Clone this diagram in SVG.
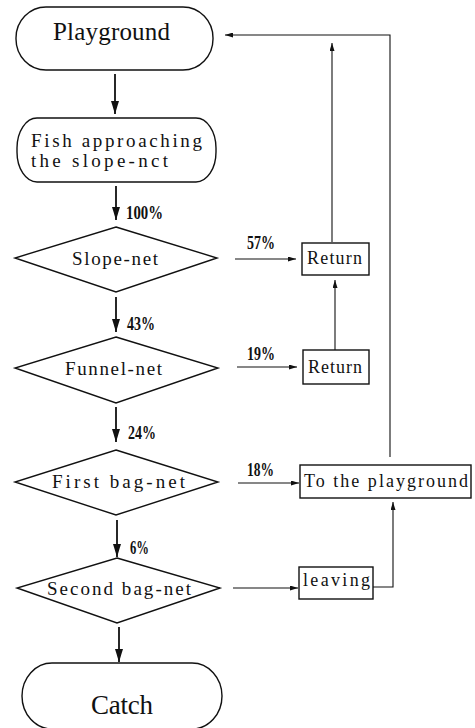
<svg xmlns="http://www.w3.org/2000/svg" width="475" height="728" viewBox="0 0 475 728">
<defs>
<style>
.shape{fill:#fff;stroke:#111;stroke-width:1.4}
.conn{fill:none;stroke:#111;stroke-width:1.1}
.main{fill:none;stroke:#111;stroke-width:1.8}
text{font-family:"Liberation Serif","Times New Roman",serif;fill:#111}
.lbl{font-size:19px}
.box{font-size:18px}
.pct{font-size:18px;font-weight:bold}
</style>
<marker id="big" viewBox="0 0 13 8" refX="13" refY="4" markerWidth="13" markerHeight="8" markerUnits="userSpaceOnUse" orient="auto"><path d="M0,0 L13,4 L0,8 Z" fill="#111"/></marker>
<marker id="small" viewBox="0 0 8 5" refX="8" refY="2.5" markerWidth="8" markerHeight="5" markerUnits="userSpaceOnUse" orient="auto"><path d="M0,0 L8,2.5 L0,5 Z" fill="#111"/></marker>
</defs>
<rect width="475" height="728" fill="#fff"/>

<g id="connectors">
<line class="main" x1="115" y1="74" x2="115" y2="114" marker-end="url(#big)"/>
<line class="main" x1="116" y1="186" x2="116" y2="220" marker-end="url(#big)"/>
<line class="main" x1="116" y1="297" x2="116" y2="332" marker-end="url(#big)"/>
<line class="main" x1="116" y1="407" x2="116" y2="442" marker-end="url(#big)"/>
<line class="main" x1="117" y1="520" x2="117" y2="557" marker-end="url(#big)"/>
<line class="main" x1="119" y1="627" x2="119" y2="662" marker-end="url(#big)"/>

<line class="conn" x1="235" y1="259" x2="296" y2="259" marker-end="url(#small)"/>
<line class="conn" x1="237" y1="367" x2="297" y2="367" marker-end="url(#small)"/>
<line class="conn" x1="238" y1="483" x2="299" y2="483" marker-end="url(#small)"/>
<line class="conn" x1="233" y1="588" x2="298" y2="588" marker-end="url(#small)"/>

<line class="conn" x1="335" y1="350" x2="335" y2="280" marker-end="url(#small)"/>
<line class="conn" x1="332" y1="242" x2="332" y2="43" marker-end="url(#small)"/>
<polyline class="conn" points="390,457 390,35 225,35" marker-end="url(#small)"/>
<polyline class="conn" points="373,587 393,587 393,502" marker-end="url(#small)"/>

<text class="pct" x="126" y="219" textLength="37" lengthAdjust="spacingAndGlyphs">100%</text>
<text class="pct" x="127" y="330" textLength="28" lengthAdjust="spacingAndGlyphs">43%</text>
<text class="pct" x="128" y="439" textLength="28" lengthAdjust="spacingAndGlyphs">24%</text>
<text class="pct" x="130" y="554" textLength="19" lengthAdjust="spacingAndGlyphs">6%</text>
<text class="pct" x="247" y="249" textLength="28" lengthAdjust="spacingAndGlyphs">57%</text>
<text class="pct" x="247" y="360" textLength="28" lengthAdjust="spacingAndGlyphs">19%</text>
<text class="pct" x="247" y="476" textLength="27" lengthAdjust="spacingAndGlyphs">18%</text>
</g>

<g id="playground">
<rect class="shape" x="16" y="7" width="197" height="63" rx="30" ry="31"/>
<text x="53" y="40" font-size="25" textLength="117">Playground</text>
</g>

<g id="fish">
<rect class="shape" x="17" y="118" width="199" height="64" rx="20" ry="30"/>
<text class="lbl" x="31" y="147" font-size="20" textLength="171">Fish approaching</text>
<text class="lbl" x="31" y="167" font-size="20" textLength="137">the slope-nct</text>
</g>

<g id="slope-net">
<polygon class="shape" points="116,227 217,258 116,292 15,258"/>
<text class="lbl" x="72" y="265" textLength="86">Slope-net</text>
</g>

<g id="return1">
<rect class="shape" x="302" y="243" width="67" height="32"/>
<text class="box" x="307" y="264" textLength="55">Return</text>
</g>

<g id="funnel-net">
<polygon class="shape" points="116,337 218,368 116,403 15,368"/>
<text class="lbl" x="65" y="375" textLength="97">Funnel-net</text>
</g>

<g id="return2">
<rect class="shape" x="303" y="350" width="66" height="34"/>
<text class="box" x="308" y="373" textLength="54">Return</text>
</g>

<g id="first-bag-net">
<polygon class="shape" points="116,450 218,482 116,515 15,482"/>
<text class="lbl" x="52" y="488" textLength="133">First bag-net</text>
</g>

<g id="to-playground">
<rect class="shape" x="300" y="465" width="171" height="33"/>
<text class="box" x="304" y="487" textLength="164">To the playground</text>
</g>

<g id="second-bag-net">
<polygon class="shape" points="117,558 220,588 117,623 17,588"/>
<text class="lbl" x="47" y="595" textLength="144">Second bag-net</text>
</g>

<g id="leaving">
<rect class="shape" x="299" y="567" width="74" height="32"/>
<text class="box" x="303" y="586" textLength="67">leaving</text>
</g>

<g id="catch">
<rect class="shape" x="22" y="663" width="200" height="66" rx="30" ry="33"/>
<text x="91" y="714" font-size="27" textLength="62">Catch</text>
</g>
</svg>
